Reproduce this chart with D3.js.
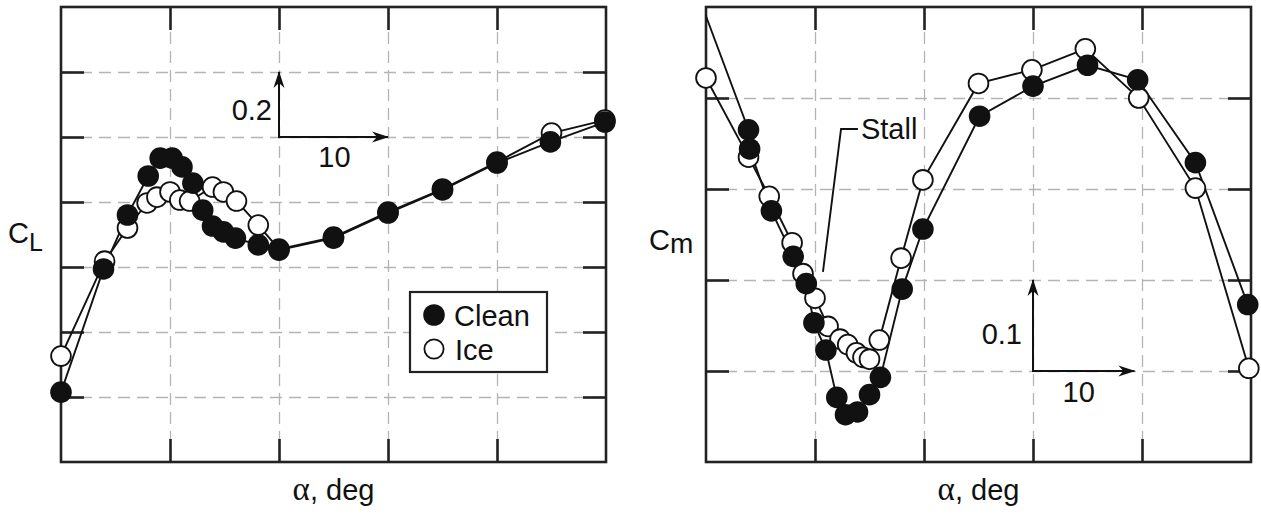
<!DOCTYPE html>
<html>
<head>
<meta charset="utf-8">
<script src="https://cdn.jsdelivr.net/npm/d3@7"></script>
<style>
  html, body { margin: 0; padding: 0; background: #fff; }
  svg { display: block; }
  text { font-family: "Liberation Sans", Arial, Helvetica, sans-serif; fill: #111; }
</style>
</head>
<body>
<svg id="chart" width="1261" height="514"></svg>
<script>
// ---------- DATA ----------
// Left panel: lift coefficient C_L vs angle of attack (deg, relative scale)
const clCleanAlpha = [0, 3.9, 6.1, 8.0, 9.1, 10.2, 11.1, 12.1, 13.0, 13.9, 14.9, 16.0, 18.1, 20.0, 25.0, 30.0, 35.0, 40.0, 44.9, 49.9];
const clCleanValue = [0.215, 0.594, 0.760, 0.880, 0.935, 0.935, 0.908, 0.858, 0.775, 0.726, 0.708, 0.689, 0.668, 0.652, 0.689, 0.766, 0.837, 0.920, 0.985, 1.046];
const clIceAlpha = [0, 4.0, 6.1, 7.9, 8.8, 10.0, 10.9, 11.8, 13.9, 14.9, 16.1, 18.1, 20.0, 25.0, 30.0, 35.0, 40.0, 45.0, 49.9];
const clIceValue = [0.326, 0.618, 0.720, 0.797, 0.815, 0.831, 0.806, 0.803, 0.846, 0.831, 0.803, 0.729, 0.655, 0.692, 0.769, 0.840, 0.923, 1.012, 1.052];

// Right panel: pitching moment coefficient C_m vs angle of attack
const cmCleanAlpha = [-1.0, 3.9, 4.0, 6.0, 8.0, 9.2, 9.9, 11.0, 12.0, 12.8, 13.9, 15.0, 16.0, 18.0, 19.9, 25.1, 30.0, 35.0, 39.6, 44.9, 49.7];
const cmCleanValue = [0.522, 0.365, 0.344, 0.276, 0.226, 0.196, 0.153, 0.123, 0.071, 0.052, 0.055, 0.074, 0.093, 0.190, 0.256, 0.380, 0.413, 0.436, 0.420, 0.329, 0.173];
const cmIceAlpha = [0, 3.9, 5.8, 7.9, 8.9, 10.0, 11.2, 12.3, 13.0, 13.8, 14.4, 15.0, 15.9, 17.9, 19.9, 25.0, 29.9, 34.8, 39.7, 44.9, 49.8];
const cmIceValue = [0.422, 0.335, 0.292, 0.241, 0.207, 0.180, 0.149, 0.135, 0.129, 0.120, 0.115, 0.113, 0.134, 0.224, 0.310, 0.416, 0.431, 0.454, 0.400, 0.301, 0.103];

// Axis tick positions (no tick labels in the original)
const alphaTicks = [10, 20, 30, 40];
const clTicks = [0.2, 0.4, 0.6, 0.8, 1.0, 1.2];
const cmTicks = [0.1, 0.2, 0.3, 0.4];

// Legend
const seriesNames = ["Clean", "Ice"];

// Scale-bar annotations
const clScaleBar = { alpha: 20, value: 1.0, dAlpha: 10, dValue: 0.2, labelA: "10", labelV: "0.2" };
const cmScaleBar = { alpha: 30, value: 0.1, dAlpha: 9.3, dValue: 0.1, labelA: "10", labelV: "0.1" };
// Stall leader line points (alpha, Cm)
const stallAlpha = [10.73, 12.39, 13.94];
const stallValue = [0.209, 0.366, 0.366];

// ---------- DRAW ----------
const svg = d3.select("#chart");
const defs = svg.append("defs");
defs.append("marker")
  .attr("id", "arrow")
  .attr("viewBox", "-18 -7 20 14")
  .attr("refX", 0).attr("refY", 0)
  .attr("markerWidth", 20).attr("markerHeight", 14)
  .attr("markerUnits", "userSpaceOnUse")
  .attr("orient", "auto")
  .append("path")
  .attr("d", "M1,0 L-16,-5.5 L-11,0 L-16,5.5 Z")
  .attr("fill", "#111");

const TOP = 7, BOTTOM = 462, TICK = 23;
const R = 10.8;
const FS = 29;

function panel(opts) {
  const x = d3.scaleLinear().domain([0, 50]).range([opts.left, opts.right]);
  const y = d3.scaleLinear().domain(opts.yDomain).range([BOTTOM, TOP]);
  const g = svg.append("g");
  const W = opts.right - opts.left, H = BOTTOM - TOP;

  // grid
  g.append("g").attr("transform", `translate(0,${BOTTOM})`)
    .call(d3.axisBottom(x).tickValues(alphaTicks).tickSize(-H).tickFormat(""))
    .call(s => s.select(".domain").remove())
    .selectAll("line").attr("stroke", "#b4b4b4").attr("stroke-width", 1.3).attr("stroke-dasharray", "12,7");
  g.append("g").attr("transform", `translate(${opts.left},0)`)
    .call(d3.axisLeft(y).tickValues(opts.yTicks).tickSize(-W).tickFormat(""))
    .call(s => s.select(".domain").remove())
    .selectAll("line").attr("stroke", "#b4b4b4").attr("stroke-width", 1.3).attr("stroke-dasharray", "12,7");

  // inward ticks on all four sides
  const tickStyle = s => {
    s.select(".domain").remove();
    s.selectAll("line").attr("stroke", "#222").attr("stroke-width", 2.6);
  };
  g.append("g").attr("transform", `translate(0,${BOTTOM})`)
    .call(d3.axisBottom(x).tickValues(alphaTicks).tickSize(-TICK).tickFormat("")).call(tickStyle);
  g.append("g").attr("transform", `translate(0,${TOP})`)
    .call(d3.axisTop(x).tickValues(alphaTicks).tickSize(-TICK).tickFormat("")).call(tickStyle);
  g.append("g").attr("transform", `translate(${opts.left},0)`)
    .call(d3.axisLeft(y).tickValues(opts.yTicks).tickSize(-TICK).tickFormat("")).call(tickStyle);
  g.append("g").attr("transform", `translate(${opts.right},0)`)
    .call(d3.axisRight(y).tickValues(opts.yTicks).tickSize(-TICK).tickFormat("")).call(tickStyle);

  // frame
  g.append("rect").attr("x", opts.left).attr("y", TOP).attr("width", W).attr("height", H)
    .attr("fill", "none").attr("stroke", "#222").attr("stroke-width", 2.6);

  // clip for lines
  const clipId = "clip" + opts.left;
  defs.append("clipPath").attr("id", clipId).append("rect")
    .attr("x", opts.left).attr("y", TOP).attr("width", W).attr("height", H);

  const line = d3.line().x(d => x(d[0])).y(d => y(d[1]));
  const ice = opts.iceA.map((a, i) => [a, opts.iceV[i]]);
  const clean = opts.cleanA.map((a, i) => [a, opts.cleanV[i]]);

  const lg = g.append("g").attr("clip-path", `url(#${clipId})`);
  lg.append("path").datum(ice).attr("d", line).attr("fill", "none").attr("stroke", "#111").attr("stroke-width", 1.9);
  lg.append("path").datum(clean).attr("d", line).attr("fill", "none").attr("stroke", "#111").attr("stroke-width", 1.9);

  const inDomain = d => d[0] >= 0 && d[0] <= 50;
  g.append("g").selectAll("circle").data(ice.filter(inDomain)).join("circle")
    .attr("cx", d => x(d[0])).attr("cy", d => y(d[1])).attr("r", R - 0.9)
    .attr("fill", "#fff").attr("stroke", "#111").attr("stroke-width", 1.8);
  g.append("g").selectAll("circle").data(clean.filter(inDomain)).join("circle")
    .attr("cx", d => x(d[0])).attr("cy", d => y(d[1])).attr("r", R)
    .attr("fill", "#111");

  // scale bar
  const sb = opts.scaleBar;
  const x0 = x(sb.alpha), y0 = y(sb.value);
  g.append("line").attr("x1", x0).attr("y1", y0).attr("x2", x0).attr("y2", y(sb.value + sb.dValue))
    .attr("stroke", "#111").attr("stroke-width", 2).attr("marker-end", "url(#arrow)");
  g.append("line").attr("x1", x0 - 1).attr("y1", y0).attr("x2", x(sb.alpha + sb.dAlpha)).attr("y2", y0)
    .attr("stroke", "#111").attr("stroke-width", 2).attr("marker-end", "url(#arrow)");
  g.append("text").attr("x", x0 + opts.vLabelDx).attr("y", y0 + opts.vLabelDy)
    .attr("text-anchor", "end").attr("font-size", FS).text(sb.labelV);
  g.append("text").attr("x", x(sb.alpha + sb.dAlpha / 2) + opts.hLabelDx).attr("y", y0 + opts.hLabelDy)
    .attr("text-anchor", "middle").attr("font-size", FS).text(sb.labelA);

  // x label
  const xl = g.append("text").attr("x", (opts.left + opts.right) / 2).attr("y", 500)
    .attr("text-anchor", "middle").attr("font-size", FS);
  xl.append("tspan").attr("font-family", "'Liberation Serif', 'Times New Roman', serif").attr("font-size", 33).text("α");
  xl.append("tspan").text(", deg");

  return { x, y, g };
}

const left = panel({
  left: 61, right: 606, yDomain: [0, 1.4], yTicks: clTicks,
  cleanA: clCleanAlpha, cleanV: clCleanValue, iceA: clIceAlpha, iceV: clIceValue,
  scaleBar: clScaleBar, vLabelDx: -7, vLabelDy: -17, hLabelDx: 1, hLabelDy: 30
});
const right = panel({
  left: 706, right: 1251, yDomain: [0, 0.5], yTicks: cmTicks,
  cleanA: cmCleanAlpha, cleanV: cmCleanValue, iceA: cmIceAlpha, iceV: cmIceValue,
  scaleBar: cmScaleBar, vLabelDx: -11, vLabelDy: -27, hLabelDx: -5, hLabelDy: 31
});

// y labels
const ylab1 = svg.append("text").attr("x", 8).attr("y", 243).attr("font-size", FS);
ylab1.append("tspan").text("C");
ylab1.append("tspan").attr("font-size", 25).attr("dy", 8).text("L");
const ylab2 = svg.append("text").attr("x", 649).attr("y", 250).attr("font-size", FS);
ylab2.append("tspan").text("C");
ylab2.append("tspan").attr("font-size", 28).attr("dy", 3).text("m");

// legend (left panel)
const lgd = svg.append("g");
lgd.append("rect").attr("x", 410).attr("y", 292).attr("width", 137).attr("height", 80)
  .attr("fill", "#fff").attr("stroke", "#222").attr("stroke-width", 2.2);
lgd.append("circle").attr("cx", 434).attr("cy", 315).attr("r", 10.8).attr("fill", "#111");
lgd.append("circle").attr("cx", 434).attr("cy", 349).attr("r", 9.6).attr("fill", "#fff").attr("stroke", "#111").attr("stroke-width", 1.8);
lgd.append("text").attr("x", 454).attr("y", 326).attr("font-size", FS).text(seriesNames[0]);
lgd.append("text").attr("x", 455).attr("y", 360).attr("font-size", FS).text(seriesNames[1]);

// Stall annotation (right panel)
const stallPts = stallAlpha.map((a, i) => [right.x(a), right.y(stallValue[i])]);
svg.append("path").attr("d", d3.line()(stallPts)).attr("fill", "none").attr("stroke", "#111").attr("stroke-width", 1.9);
svg.append("text").attr("x", stallPts[2][0] + 3).attr("y", stallPts[2][1] + 10).attr("font-size", FS).text("Stall");
</script>
</body>
</html>
